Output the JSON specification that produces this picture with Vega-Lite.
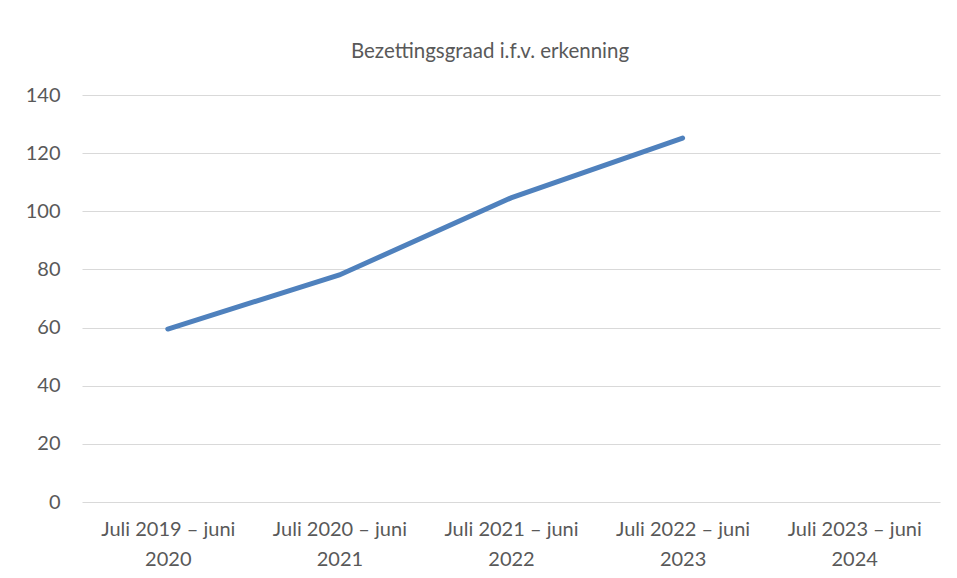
{
  "$schema": "https://vega.github.io/schema/vega-lite/v6.json",
  "width": 858,
  "height": 407,
  "autosize": {"type": "none"},
  "padding": {"left": 82, "top": 95, "right": 17, "bottom": 76},
  "background": "white",
  "title": {
    "text": "Bezettingsgraad i.f.v. erkenning",
    "font": "Lato",
    "fontSize": 20.5,
    "fontWeight": "normal",
    "color": "#595959",
    "anchor": "middle",
    "dx": -21,
    "offset": 23
  },
  "data": {
    "values": [
      {"periode": "Juli 2019 – juni 2020", "waarde": 59.5},
      {"periode": "Juli 2020 – juni 2021", "waarde": 78.1},
      {"periode": "Juli 2021 – juni 2022", "waarde": 104.6},
      {"periode": "Juli 2022 – juni 2023", "waarde": 125.2},
      {"periode": "Juli 2023 – juni 2024", "waarde": null}
    ]
  },
  "mark": {"type": "line", "color": "#4F81BD", "strokeWidth": 5, "strokeCap": "round"},
  "encoding": {
    "x": {
      "field": "periode",
      "type": "nominal",
      "sort": null,
      "scale": {
        "domain": ["Juli 2019 – juni 2020", "Juli 2020 – juni 2021", "Juli 2021 – juni 2022", "Juli 2022 – juni 2023", "Juli 2023 – juni 2024"],
        "paddingInner": 0,
        "paddingOuter": 0
      },
      "axis": {
        "title": null,
        "labelAngle": 0,
        "domain": false,
        "ticks": false,
        "labelFont": "Lato",
        "labelFontSize": 20,
        "labelColor": "#595959",
        "labelPadding": 17,
        "labelLineHeight": 30,
        "labelExpr": "[substring(datum.label, 0, 16), substring(datum.label, 17)]"
      }
    },
    "y": {
      "field": "waarde",
      "type": "quantitative",
      "scale": {"domain": [0, 140], "nice": false},
      "axis": {
        "title": null,
        "values": [0, 20, 40, 60, 80, 100, 120, 140],
        "domain": false,
        "ticks": false,
        "grid": true,
        "gridColor": "#d9d9d9",
        "gridWidth": 1,
        "labelFont": "Lato",
        "labelFontSize": 20,
        "labelColor": "#595959",
        "labelPadding": 22
      }
    }
  },
  "config": {"view": {"stroke": null}}
}
